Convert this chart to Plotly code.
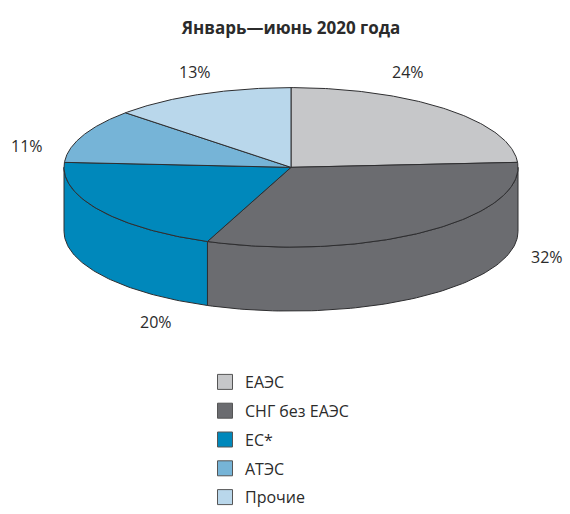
import numpy as np
import plotly.graph_objects as go

# ---- data ----
categories = ["ЕАЭС", "СНГ без ЕАЭС", "ЕС*", "АТЭС", "Прочие"]
shares = [24, 32, 20, 11, 13]
title_text = "Январь—июнь 2020 года"

# ---- styles ----
colors = ["#c6c7c9", "#6b6c70", "#0088bb", "#76b4d7", "#b9d7eb"]
edge = "#2e2e30"
FONT = "Open Sans"
W, H = 570, 514
CX, CY = 291, 170          # centre of the top face (px)
RX, RY = 227, 81           # radii of the top ellipse (px)
DEPTH = 65                 # thickness of the pie (px)
# label anchor positions (px) for the percentage texts
label_pos = [(408, 73), (547, 261), (156, 327), (27, 148), (195, 73)]

fig = go.Figure()

def pt(theta_deg, dy=0.0):
    t = np.radians(theta_deg)
    return CX + RX * np.sin(t), CY - RY * np.cos(t) + dy

total = float(sum(shares))
bounds = np.concatenate([[0], np.cumsum(shares)]) / total * 360.0

# side walls (visible front half: 90..270 deg clockwise from top)
for i, (a0, a1) in enumerate(zip(bounds[:-1], bounds[1:])):
    s, e = max(a0, 90.0), min(a1, 270.0)
    if e <= s:
        continue
    th = np.linspace(s, e, 80)
    xt, yt = pt(th)
    xb, yb = pt(th[::-1], DEPTH)
    xs = np.concatenate([xt, xb, xt[:1]])
    ys = np.concatenate([yt, yb, yt[:1]])
    fig.add_trace(go.Scatter(x=xs, y=ys, mode="lines", fill="toself",
                             fillcolor=colors[i], line=dict(color=edge, width=1),
                             hoverinfo="skip", showlegend=False))

# top faces
for i, (a0, a1) in enumerate(zip(bounds[:-1], bounds[1:])):
    th = np.linspace(a0, a1, 120)
    xa, ya = pt(th)
    xs = np.concatenate([[CX], xa, [CX]])
    ys = np.concatenate([[CY], ya, [CY]])
    fig.add_trace(go.Scatter(x=xs, y=ys, mode="lines", fill="toself",
                             fillcolor=colors[i], line=dict(color=edge, width=1),
                             hoverinfo="skip", showlegend=False))

# percentage labels
for i, v in enumerate(shares):
    fig.add_annotation(x=label_pos[i][0], y=label_pos[i][1], text=f"{v}%",
                       showarrow=False, xanchor="center", yanchor="middle",
                       font=dict(size=16, color="#2b2b2b", family=FONT))

# legend entries
for i, name in enumerate(categories):
    fig.add_trace(go.Scatter(x=[None], y=[None], mode="markers", name=name,
                             legendgroup=f"g{i}",
                             marker=dict(symbol="square", size=15, color=colors[i],
                                         line=dict(color="#555555", width=1))))

fig.update_layout(
    width=W, height=H, autosize=False,
    margin=dict(l=0, r=0, t=0, b=0),
    paper_bgcolor="white", plot_bgcolor="white",
    xaxis=dict(range=[0, W], visible=False, fixedrange=True),
    yaxis=dict(range=[H, 0], visible=False, fixedrange=True),
    title=dict(text=f"<b>{title_text}</b>", x=291 / W, xanchor="center",
               y=1 - 28 / H, yanchor="middle",
               font=dict(size=17, color="#2b2b2b", family=FONT)),
    legend=dict(x=205 / W, xanchor="left", y=1 - 371 / H, yanchor="top",
                traceorder="grouped", tracegroupgap=5,
                font=dict(size=16, color="#2b2b2b", family=FONT),
                bgcolor="rgba(0,0,0,0)"),
    showlegend=True,
)

fig.write_html("out.html", config={"displayModeBar": False},
               post_script="document.body.style.margin='0';")
